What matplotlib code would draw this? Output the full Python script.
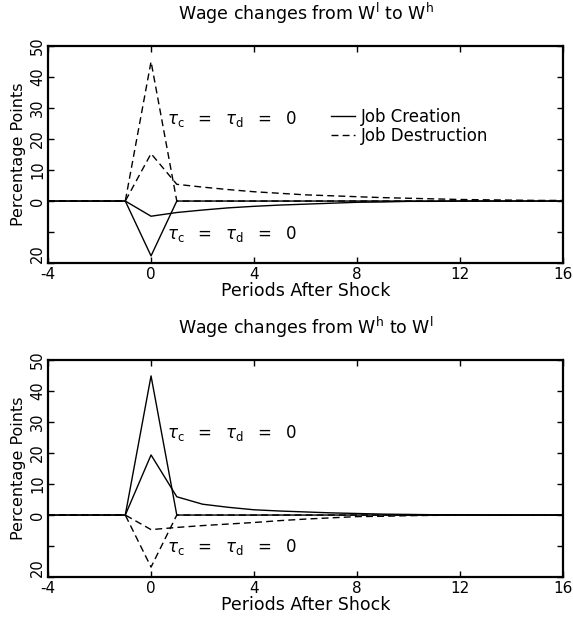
import numpy as np
import matplotlib
matplotlib.use("Agg")
import matplotlib.pyplot as plt
from matplotlib.lines import Line2D

plt.rcParams.update({
    "font.family": "DejaVu Sans",
    "mathtext.fontset": "dejavusans",
    "font.size": 11,
})

# periods after shock
periods = np.arange(-4, 17)

# top panel: wage change W^l -> W^h
top_jc_tau0 = [0, 0, 0, 0, -17.7, 0, 0, 0, 0, 0, 0, 0, 0, 0, 0, 0, 0, 0, 0, 0, 0]
top_jc_base = [0, 0, 0, 0, -4.9, -3.7, -2.9, -2.2, -1.7, -1.3, -1.0, -0.7, -0.4, -0.3, -0.1, -0.1, 0, 0, 0, 0, 0]
top_jd_tau0 = [0, 0, 0, 0, 45.0, 0, 0, 0, 0, 0, 0, 0, 0, 0, 0, 0, 0, 0, 0, 0, 0]
top_jd_base = [0, 0, 0, 0, 15.3, 5.4, 4.5, 3.7, 3.0, 2.5, 2.0, 1.7, 1.4, 1.1, 0.9, 0.7, 0.5, 0.4, 0.3, 0.2, 0.2]

# bottom panel: wage change W^h -> W^l
bot_jc_tau0 = [0, 0, 0, 0, 44.9, 0, 0, 0, 0, 0, 0, 0, 0, 0, 0, 0, 0, 0, 0, 0, 0]
bot_jc_base = [0, 0, 0, 0, 19.4, 5.9, 3.5, 2.5, 1.7, 1.3, 1.0, 0.7, 0.5, 0.3, 0.2, 0.1, 0.1, 0, 0, 0, 0]
bot_jd_tau0 = [0, 0, 0, 0, -16.8, 0, 0, 0, 0, 0, 0, 0, 0, 0, 0, 0, 0, 0, 0, 0, 0]
bot_jd_base = [0, 0, 0, 0, -4.7, -4.0, -3.4, -2.9, -2.4, -1.8, -1.3, -0.9, -0.5, -0.4, -0.2, -0.1, 0, 0, 0, 0, 0]

xticks = [-4, 0, 4, 8, 12, 16]
xticklabels = ["-4", "0", "4", "8", "12", "16"]
yticks = [-20, -10, 0, 10, 20, 30, 40, 50]
yticklabels = ["20", "", "0", "10", "20", "30", "40", "50"]

titles = [r"Wage changes from W$^\mathrm{l}$ to W$^\mathrm{h}$",
          r"Wage changes from W$^\mathrm{h}$ to W$^\mathrm{l}$"]
tau_label = r"$\tau_\mathrm{c}\ \ =\ \ \tau_\mathrm{d}\ \ =\ \ 0$"

dash = (0, (5, 3))

fig = plt.figure(figsize=(5.73, 6.18), dpi=100)
ax1 = fig.add_axes([0.0838, 0.5744, 0.899, 0.351])
ax2 = fig.add_axes([0.0838, 0.0663, 0.899, 0.351])


def style(ax, title):
    ax.set_xlim(-4, 16)
    ax.set_ylim(-20, 50)
    ax.set_xticks(xticks)
    ax.set_xticklabels(xticklabels, fontsize=11)
    ax.set_yticks(yticks)
    ylabs = ax.set_yticklabels(yticklabels, rotation=90, va="center", fontsize=10.5)
    ylabs[0].set_va("bottom")  # bottom label sits above its tick, as in the original
    ax.tick_params(direction="in", top=True, right=True, length=4, width=1)
    ax.tick_params(axis="x", pad=3)
    ax.tick_params(axis="y", pad=2)
    for s in ax.spines.values():
        s.set_linewidth(1.6)
    ax.set_title(title, fontsize=12.5, pad=19)
    ax.set_xlabel("Periods After Shock", fontsize=12.5, labelpad=0)
    ax.set_ylabel("Percentage Points", fontsize=11.5, labelpad=3)


# top panel
ax1.plot(periods, top_jd_tau0, color="black", lw=1, linestyle=dash)
ax1.plot(periods, top_jd_base, color="black", lw=1, linestyle=dash)
ax1.plot(periods, top_jc_tau0, color="black", lw=1)
ax1.plot(periods, top_jc_base, color="black", lw=1)
ax1.text(0.62, 26.5, tau_label, fontsize=12, va="center", ha="left")
ax1.text(0.62, -10.7, tau_label, fontsize=12, va="center", ha="left")
handles = [Line2D([], [], color="black", lw=1),
           Line2D([], [], color="black", lw=1, linestyle=dash)]
ax1.legend(handles, ["Job Creation", "Job Destruction"], frameon=False,
           loc="center left", bbox_to_anchor=(7.0, 24.0), bbox_transform=ax1.transData,
           borderpad=0, borderaxespad=0, handlelength=1.4, handletextpad=0.35,
           labelspacing=0.05, fontsize=12)
style(ax1, titles[0])

# bottom panel
ax2.plot(periods, bot_jc_tau0, color="black", lw=1)
ax2.plot(periods, bot_jc_base, color="black", lw=1)
ax2.plot(periods, bot_jd_tau0, color="black", lw=1, linestyle=dash)
ax2.plot(periods, bot_jd_base, color="black", lw=1, linestyle=dash)
ax2.text(0.62, 26.5, tau_label, fontsize=12, va="center", ha="left")
ax2.text(0.62, -10.4, tau_label, fontsize=12, va="center", ha="left")
style(ax2, titles[1])

fig.savefig("out.png", dpi=100)
